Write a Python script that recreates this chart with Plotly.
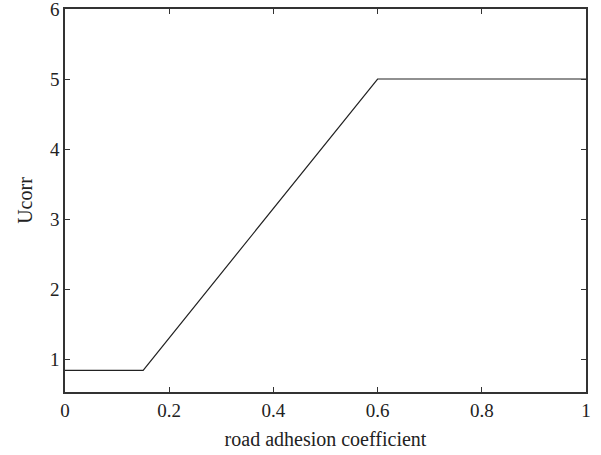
import plotly.graph_objects as go

# Correction voltage vs. road adhesion coefficient
adhesion = [0.0, 0.15, 0.6, 1.0]
ucorr = [0.84, 0.84, 5.0, 5.0]

x_ticks = [0, 0.2, 0.4, 0.6, 0.8, 1]
x_tick_text = ["0", "0.2", "0.4", "0.6", "0.8", "1"]
y_ticks = [1, 2, 3, 4, 5, 6]

fig = go.Figure()
fig.add_trace(go.Scatter(
    x=adhesion, y=ucorr, mode="lines",
    line=dict(color="#222222", width=1.2),
    showlegend=False,
))

axis_common = dict(
    showgrid=False, zeroline=False, automargin=False,
    ticklabeloverflow="allow",
    showline=True, linecolor="#333333", linewidth=1.5, mirror="ticks",
    ticks="inside", ticklen=5, tickwidth=1.2, tickcolor="#333333",
    tickfont=dict(family="Liberation Serif", size=19, color="#222222"),
    title_font=dict(family="Liberation Serif", size=20, color="#222222"),
)

fig.update_xaxes(
    range=[0, 1], tickvals=x_ticks, ticktext=x_tick_text,
    title_text="road adhesion coefficient", title_standoff=12,
    **axis_common,
)
fig.update_yaxes(
    range=[0.53, 6], tickvals=y_ticks,
    title_text="Ucorr", title_standoff=12,
    **axis_common,
)

fig.update_layout(
    width=601, height=455,
    margin=dict(l=65, r=15, t=9, b=63),
    plot_bgcolor="white", paper_bgcolor="white",
)

fig.write_html("out.html")
